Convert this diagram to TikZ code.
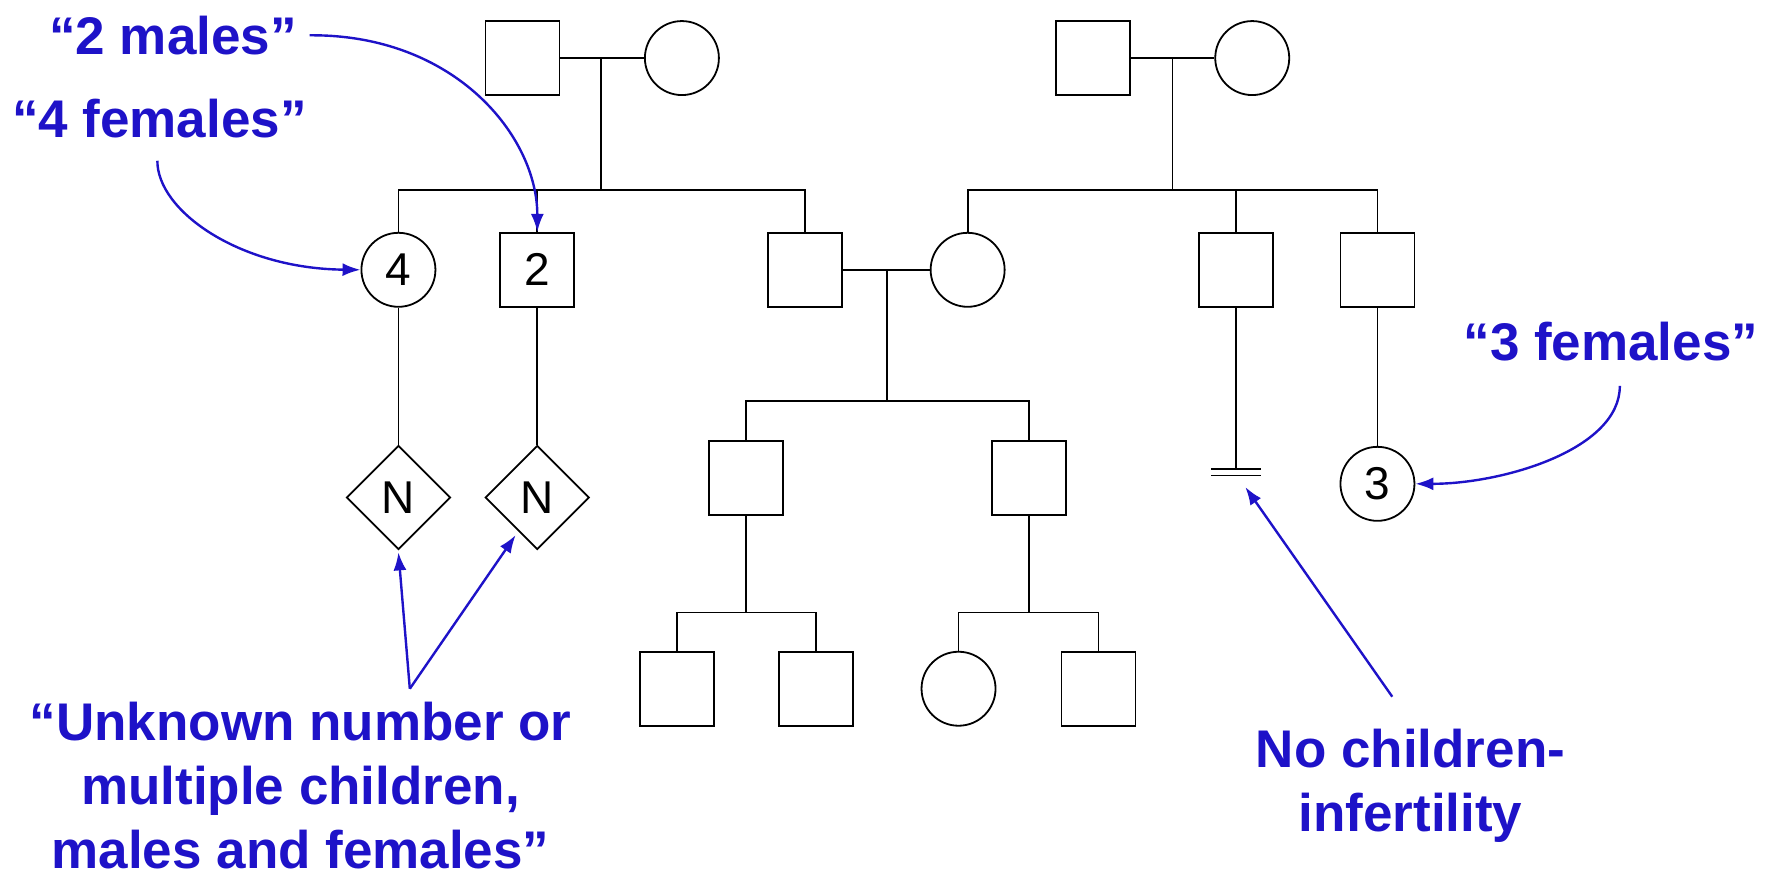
\documentclass[tikz,border=0pt]{standalone}
\usepackage{fontspec}
\setmainfont{Liberation Sans}
\usetikzlibrary{shapes.geometric,arrows.meta}
\definecolor{lblue}{RGB}{30,18,200}
\begin{document}
\begin{tikzpicture}[x=1.1384pt,y=-1.1384pt,
  line width=1.8pt,
  male/.style={draw,rectangle,minimum size=74pt,inner sep=0pt,font=\fontsize{46}{46}\selectfont},
  female/.style={draw,circle,minimum size=74pt,inner sep=0pt,font=\fontsize{46}{46}\selectfont},
  multi/.style={draw,diamond,minimum size=104pt,inner sep=0pt,font=\fontsize{46}{46}\selectfont},
  lab/.style={text=lblue,font=\fontsize{53}{64}\selectfont\bfseries,align=center,inner sep=0pt},
  arr/.style={draw=lblue,line width=2.4pt,-{Latex[length=18pt,width=13pt]}},
]
\useasboundingbox (0,0) rectangle (1568,771);
% generation 1
\node[male] (A) at (459,51) {};
\node[female] (B) at (599,51) {};
\node[male] (F) at (960,51) {};
\node[female] (G) at (1100,51) {};
\coordinate (m1) at (528,51);
\coordinate (s1) at (528,167);
\coordinate (m2) at (1030,51);
\coordinate (s2) at (1030,167);
% generation 2
\node[female] (C) at (350,237) {4};
\node[male] (D) at (472,237) {2};
\node[male] (E) at (707,237) {};
\node[female] (H) at (850,237) {};
\node[male] (I) at (1086,237) {};
\node[male] (J) at (1210,237) {};
\coordinate (m3) at (779,237);
\coordinate (s3) at (779,352);
% generation 3
\node[multi] (Q) at (350,437) {N};
\node[multi] (R) at (472,437) {N};
\node[male] (K) at (655,420) {};
\node[male] (L) at (904,420) {};
\node[female] (S) at (1210,425) {3};
\coordinate (inf) at (1086,412);
\coordinate (s4) at (655,538);
\coordinate (s5) at (904,538);
% generation 4
\node[male] (M) at (595,605) {};
\node[male] (N2) at (717,605) {};
\node[female] (O) at (842,605) {};
\node[male] (P) at (965,605) {};
% lines
\draw (A.east) -- (B.west);
\draw (m1) -- (s1);
\draw (C.north) |- (s1) -| (E.north);
\draw (D.north) -- (D.north |- s1);
\draw (F.east) -- (G.west);
\draw (m2) -- (s2);
\draw (H.north) |- (s2) -| (J.north);
\draw (I.north) -- (I.north |- s2);
\draw (E.east) -- (H.west);
\draw (m3) -- (s3);
\draw (K.north) |- (s3) -| (L.north);
\draw (K.south) -- (s4);
\draw (M.north) |- (s4) -| (N2.north);
\draw (L.south) -- (s5);
\draw (O.north) |- (s5) -| (P.north);
\draw (C.south) -- (Q.north);
\draw (D.south) -- (R.north);
\draw (I.south) -- (inf);
\draw ([xshift=-25pt]inf) -- ([xshift=25pt]inf);
\draw ([xshift=-25pt,yshift=-6.5pt]inf) -- ([xshift=25pt,yshift=-6.5pt]inf);
\draw (J.south) -- (S.north);
% labels
\node[lab] (t2) at (152,31) {“2 males”};
\draw[arr] ([xshift=12pt]t2.east) .. controls (400,30) and (472,120) .. (D.north);
\node[lab] (t4) at (140,104) {“4 females”};
\draw[arr] ([xshift=-2pt,yshift=-22pt]t4.south) .. controls (138,185) and (210,236) .. (C.west);
\node[lab] (t3) at (1415,300) {“3 females”};
\draw[arr] ([xshift=9pt,yshift=-24pt]t3.south) .. controls (1423,395) and (1320,425) .. (S.east);
\node[lab] (tu) at (264,690) {“Unknown number or\\multiple children,\\males and females”};
\coordinate (uv) at (360,605);
\coordinate (utip) at (453,470);
\draw[arr] (uv) -- ([yshift=-2pt]Q.south);
\draw[arr] (uv) -- (utip);
\node[lab] (tn) at (1239,690) {No children-\\infertility};
\coordinate (nv) at (1223,612);
\draw[arr] (nv) -- ([xshift=9pt,yshift=-18pt]inf);
\end{tikzpicture}
\end{document}
